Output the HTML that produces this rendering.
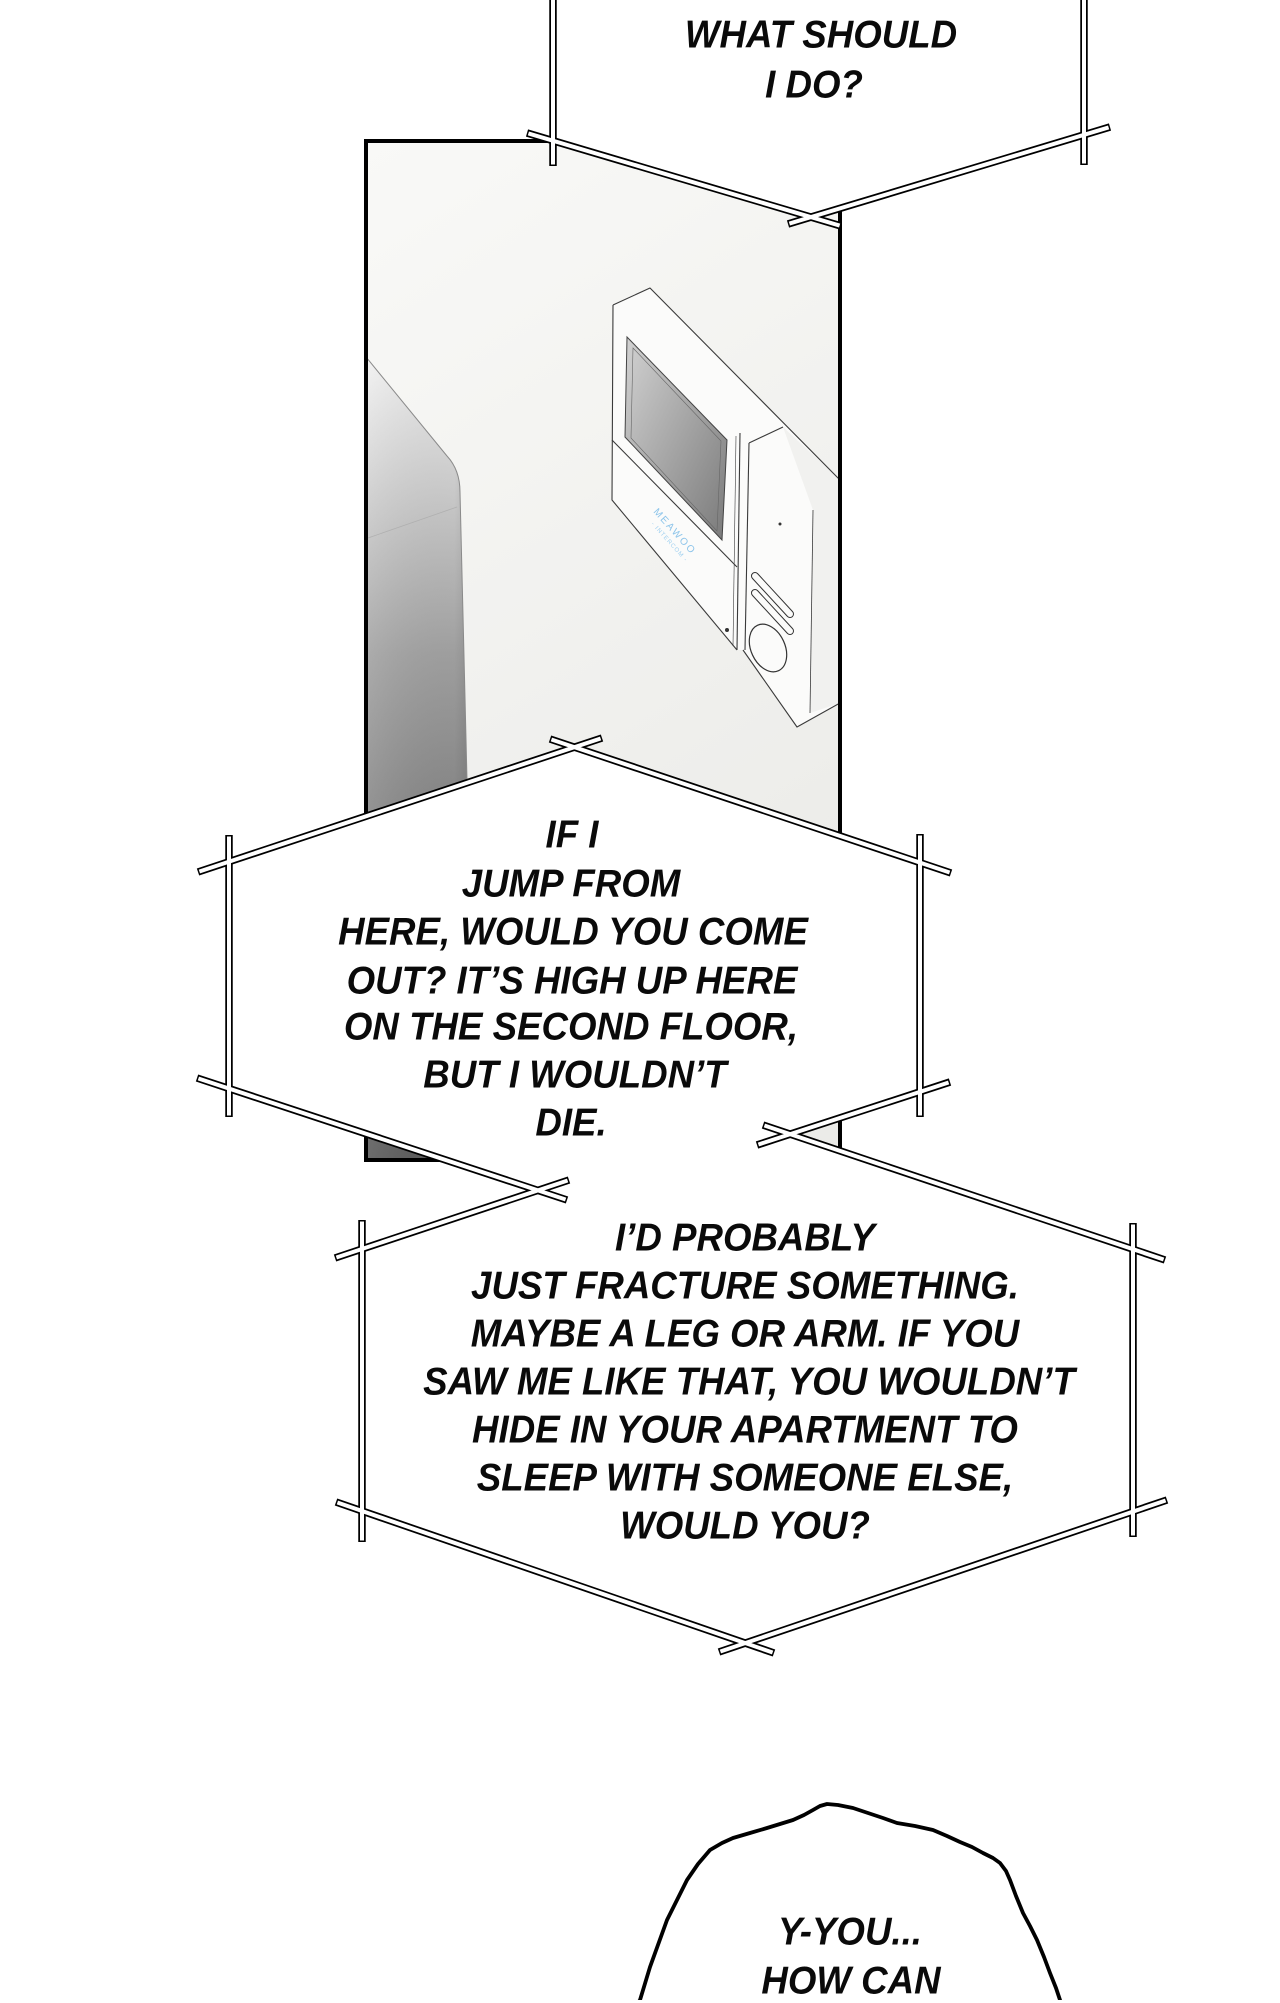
<!DOCTYPE html>
<html>
<head>
<meta charset="utf-8">
<style>
html,body{margin:0;padding:0;}
body{width:1280px;height:2000px;background:#fff;position:relative;overflow:hidden;}
svg{position:absolute;left:0;top:0;}
.t{position:absolute;font-family:"Liberation Sans",sans-serif;font-style:italic;font-weight:bold;font-size:39px;line-height:39px;white-space:nowrap;color:#0a0a0a;transform:translate(-50%,-50%) scaleX(.94);}
</style>
</head>
<body>
<svg width="1280" height="2000" viewBox="0 0 1280 2000" xmlns="http://www.w3.org/2000/svg">
<defs>
<linearGradient id="bg" x1="0" y1="0" x2="0.3" y2="1">
<stop offset="0" stop-color="#f9f9f7"/>
<stop offset="1" stop-color="#ebebe8"/>
</linearGradient>
<linearGradient id="cab" gradientUnits="userSpaceOnUse" x1="0" y1="357" x2="0" y2="1160">
<stop offset="0" stop-color="#f2f2f2"/>
<stop offset="0.12" stop-color="#d9d9d9"/>
<stop offset="0.25" stop-color="#bdbdbd"/>
<stop offset="0.37" stop-color="#a3a3a3"/>
<stop offset="0.55" stop-color="#8a8a8a"/>
<stop offset="0.8" stop-color="#727272"/>
<stop offset="1" stop-color="#5c5c5c"/>
</linearGradient>
<linearGradient id="cabh" x1="0" y1="0" x2="1" y2="0">
<stop offset="0" stop-color="#fff" stop-opacity="0.10"/>
<stop offset="0.85" stop-color="#000" stop-opacity="0.03"/>
<stop offset="1" stop-color="#000" stop-opacity="0.12"/>
</linearGradient>
<linearGradient id="scr" x1="0" y1="0" x2="1" y2="1">
<stop offset="0" stop-color="#d2d2d2"/>
<stop offset="1" stop-color="#7a7a7a"/>
</linearGradient>
<clipPath id="pc"><rect x="366" y="141" width="474" height="1019"/></clipPath>
</defs>

<!-- PANEL -->
<g clip-path="url(#pc)">
<rect x="366" y="141" width="474" height="1019" fill="url(#bg)"/>
<!-- cabinet -->
<path d="M366,357 L447,456 Q460,470 460,492 L467,780 L470,1162 L366,1162 Z" fill="url(#cab)"/>
<path d="M366,357 L447,456 Q460,470 460,492 L467,780 L470,1162 L366,1162 Z" fill="url(#cabh)"/>
<path d="M366,357 L447,456 Q460,470 460,492 L467,780 L470,1162" fill="none" stroke="#8a8a8a" stroke-width="1"/>
<path d="M368,538 L457,507" fill="none" stroke="#b0b0b0" stroke-width="0.8"/>
<!-- microwave -->
<polygon points="613,305 650,288 840,480 840,703 797,727 743,650 737,650 612,500" fill="#fbfbfa"/>
<polygon points="783,427 840,480 840,703 810,713 813,510" fill="#f1f1ef"/>
<g fill="none" stroke="#3a3a3a" stroke-width="1.1" stroke-linejoin="round">
<path d="M613,305 L650,288 L840,480"/>
<path d="M613,305 L612,500 L737,650"/>
<path d="M743,650 L797,727 L840,703"/>
<path d="M740,433 L737,650"/>
<path d="M736,436 L733,646" stroke-width="0.6"/>
<path d="M749,443 L745,650"/>
<path d="M749,443 L783,427"/>
<path d="M813,510 L810,713" stroke-width="0.8"/>
<path d="M612,440 L737,567"/>
</g>
<polygon points="627,337 727,440 722,540 625,437" fill="url(#scr)" stroke="#444" stroke-width="1"/>
<polygon points="633,348 721,441 717,531 631,438" fill="none" stroke="#666" stroke-width="0.6"/>
<g stroke-linecap="round">
<path d="M755,576 L790,614" stroke="#333" stroke-width="8"/>
<path d="M755,576 L790,614" stroke="#fbfbfa" stroke-width="6"/>
<path d="M755,593 L790,631" stroke="#333" stroke-width="8"/>
<path d="M755,593 L790,631" stroke="#fbfbfa" stroke-width="6"/>
</g>
<ellipse cx="768" cy="648" rx="17" ry="25" transform="rotate(-25 768 648)" fill="none" stroke="#333" stroke-width="1.2"/>
<circle cx="727" cy="630" r="2" fill="#333"/>
<circle cx="780" cy="524" r="1.5" fill="#333"/>
<text x="0" y="0" transform="translate(653,512) rotate(48)" font-family="Liberation Sans, sans-serif" font-size="10" letter-spacing="2" fill="#8cc4ea">MEAWOO</text>
<text x="0" y="0" transform="translate(651,524) rotate(48)" font-family="Liberation Sans, sans-serif" font-size="6" letter-spacing="1" fill="#9fd0f0">- INTERCOM -</text>
</g>
<rect x="366" y="141" width="474" height="1019" fill="none" stroke="#000" stroke-width="4"/>

<!-- BUBBLE FILLS -->
<polygon points="553,-10 1084,-10 1084,135 811,217 553,141" fill="#fff"/>
<polygon points="229,862 575,747 920,863 920,1092 790,1134 1133,1249 1133,1511 745,1643 363,1511 363,1249 538,1190 229,1089" fill="#fff"/>

<!-- STRIPS black -->
<g stroke="#000" stroke-width="7.5" stroke-linecap="butt" fill="none">
<line x1="553" y1="-5" x2="553" y2="166"/>
<line x1="1084" y1="-5" x2="1084" y2="165"/>
<line x1="527" y1="133" x2="841" y2="226"/>
<line x1="788" y1="224" x2="1110" y2="127"/>

<line x1="229" y1="835" x2="229" y2="1117"/>
<line x1="920" y1="834" x2="920" y2="1117"/>
<line x1="198" y1="872" x2="602" y2="738"/>
<line x1="550" y1="739" x2="951" y2="873"/>
<line x1="197" y1="1078" x2="567" y2="1200"/>
<line x1="950" y1="1082" x2="757" y2="1145"/>

<line x1="362" y1="1220" x2="362" y2="1542"/>
<line x1="1133" y1="1223" x2="1133" y2="1537"/>
<line x1="335" y1="1258" x2="569" y2="1180"/>
<line x1="763" y1="1125" x2="1165" y2="1260"/>
<line x1="336" y1="1502" x2="774" y2="1653"/>
<line x1="1167" y1="1500" x2="719" y2="1652"/>
</g>
<!-- STRIPS white -->
<g stroke="#fff" stroke-width="4" stroke-linecap="butt" fill="none">
<line x1="553" y1="-5" x2="553" y2="164.5"/>
<line x1="1084" y1="-5" x2="1084" y2="163.5"/>
<line x1="528.4" y1="133.4" x2="839.6" y2="225.6"/>
<line x1="789.4" y1="223.6" x2="1108.6" y2="127.4"/>

<line x1="229" y1="836.5" x2="229" y2="1115.5"/>
<line x1="920" y1="835.5" x2="920" y2="1115.5"/>
<line x1="199.4" y1="871.5" x2="600.6" y2="738.5"/>
<line x1="551.4" y1="739.5" x2="949.6" y2="872.5"/>
<line x1="198.4" y1="1078.5" x2="565.6" y2="1199.5"/>
<line x1="948.6" y1="1082.5" x2="758.4" y2="1144.5"/>

<line x1="362" y1="1221.5" x2="362" y2="1540.5"/>
<line x1="1133" y1="1224.5" x2="1133" y2="1535.5"/>
<line x1="336.4" y1="1257.5" x2="567.6" y2="1180.5"/>
<line x1="764.4" y1="1125.5" x2="1163.6" y2="1259.5"/>
<line x1="337.4" y1="1502.5" x2="772.6" y2="1652.5"/>
<line x1="1165.6" y1="1500.5" x2="720.4" y2="1651.5"/>
</g>

<!-- JAGGED BUBBLE -->
<path d="M636,2006 L640,2000 L650,1967 L667,1920 L687,1880 L698,1864 L710,1850 L722,1843 L733,1838 L750,1833 L767,1828 L780,1824 L793,1820 L804,1815 L813,1810 L820,1806 L827,1804 L838,1805 L853,1808 L868,1813 L883,1818 L897,1823 L915,1826 L933,1830 L947,1836 L960,1842 L972,1847 L983,1853 L993,1858 L1000,1863 L1006,1871 L1010,1880 L1016,1896 L1023,1913 L1030,1926 L1037,1940 L1044,1957 L1050,1973 L1056,1988 L1060,2000 L1062,2006" fill="#fff" stroke="#000" stroke-width="3.8" stroke-linejoin="round"/>
</svg>

<!-- TOP TEXT -->
<div class="t" style="left:821px;top:35px;">WHAT SHOULD</div>
<div class="t" style="left:814px;top:85px;">I DO?</div>

<!-- MIDDLE TEXT -->
<div class="t" style="left:572px;top:835px;">IF I</div>
<div class="t" style="left:571px;top:884px;">JUMP FROM</div>
<div class="t" style="left:573px;top:932px;">HERE, WOULD YOU COME</div>
<div class="t" style="left:572px;top:981px;">OUT? IT’S HIGH UP HERE</div>
<div class="t" style="left:571px;top:1027px;">ON THE SECOND FLOOR,</div>
<div class="t" style="left:575px;top:1075px;">BUT I WOULDN’T</div>
<div class="t" style="left:571px;top:1123px;">DIE.</div>

<!-- BOTTOM TEXT -->
<div class="t" style="left:745px;top:1238px;">I’D PROBABLY</div>
<div class="t" style="left:745px;top:1286px;">JUST FRACTURE SOMETHING.</div>
<div class="t" style="left:745px;top:1334px;">MAYBE A LEG OR ARM. IF YOU</div>
<div class="t" style="left:749px;top:1382px;">SAW ME LIKE THAT, YOU WOULDN’T</div>
<div class="t" style="left:745px;top:1430px;">HIDE IN YOUR APARTMENT TO</div>
<div class="t" style="left:745px;top:1478px;">SLEEP WITH SOMEONE ELSE,</div>
<div class="t" style="left:745px;top:1526px;">WOULD YOU?</div>

<!-- JAGGED TEXT -->
<div class="t" style="left:850px;top:1932px;">Y-YOU...</div>
<div class="t" style="left:851px;top:1981px;">HOW CAN</div>
</body>
</html>
